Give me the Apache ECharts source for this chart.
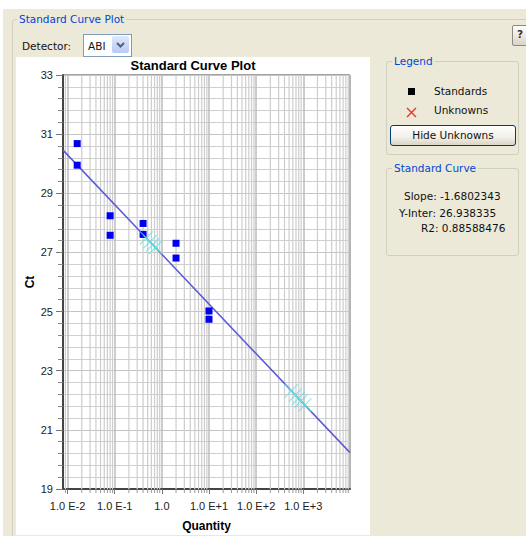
<!DOCTYPE html>
<html>
<head>
<meta charset="utf-8">
<script src="https://cdn.jsdelivr.net/npm/echarts@6/dist/echarts.min.js"></script>
<style>
  html, body { margin:0; padding:0; width:526px; height:536px; background:#fff; overflow:hidden; }
  .abs { position:absolute; }
  .ui { font-family:"DejaVu Sans", sans-serif; font-size:10.5px; color:#111; white-space:nowrap; line-height:12px; }
  .gbox { position:absolute; border:1px solid #D0D0BF; border-radius:3px; }
  .gtitle { position:absolute; background:#ECE9D8; padding:0 2px; color:#0046D5; font-family:"DejaVu Sans", sans-serif; font-size:10.5px; line-height:12px; white-space:nowrap; }
</style>
</head>
<body>
<div class="abs" style="left:3px;top:9px;width:523px;height:527px;background:#ECE9D8;"></div>
<div class="gbox" style="left:12px;top:19px;width:530px;height:540px;"></div>
<div class="gtitle" style="left:17px;top:13px;">Standard Curve Plot</div>

<!-- help button -->
<div class="abs" style="left:512px;top:25px;width:18px;height:19px;border:1px solid #8a8a80;border-radius:2px;background:linear-gradient(#fdfdfb,#d8d4c8);"></div>
<div class="abs ui" style="left:517px;top:28px;font-weight:bold;color:#333;">?</div>

<div class="abs ui" style="left:22px;top:40px;">Detector:</div>
<div class="abs" style="left:83px;top:34px;width:47px;height:21px;border:1px solid #7F9DB9;background:#fff;"></div>
<div class="abs ui" style="left:88px;top:40px;">ABI</div>
<div class="abs" style="left:112px;top:36px;width:17px;height:17px;border-radius:2px;background:linear-gradient(#dfe8fb,#b8cbf3);"></div>
<svg class="abs" style="left:115px;top:40px;" width="11" height="9"><polyline points="2,3 5.5,6.5 9,3" fill="none" stroke="#4d6185" stroke-width="2"/></svg>

<div id="chart" class="abs" style="left:16px;top:57px;width:354px;height:478px;background:#fff;"></div>

<!-- Legend group -->
<div class="gbox" style="left:386px;top:61px;width:131px;height:92px;"></div>
<div class="gtitle" style="left:392px;top:55px;">Legend</div>
<div class="abs" style="left:408px;top:88px;width:7px;height:7px;background:#000;"></div>
<div class="abs ui" style="left:434px;top:85px;">Standards</div>
<svg class="abs" style="left:406px;top:107px;" width="11" height="11"><path d="M1,1L10,10M10,1L1,10" stroke="#e8352b" stroke-width="1.4" fill="none"/></svg>
<div class="abs ui" style="left:434px;top:104px;">Unknowns</div>
<div class="abs" style="left:390px;top:125px;width:124px;height:19px;border:1px solid #003C74;border-radius:3px;background:linear-gradient(#ffffff,#f1efe8 60%,#d9d4c6);"></div>
<div class="abs ui" style="left:390px;top:129px;width:126px;text-align:center;">Hide Unknowns</div>

<!-- Standard Curve group -->
<div class="gbox" style="left:386px;top:168px;width:131px;height:86px;"></div>
<div class="gtitle" style="left:392px;top:162px;">Standard Curve</div>
<div class="abs ui" style="left:404px;top:190px;">Slope: -1.6802343</div>
<div class="abs ui" style="left:399px;top:207px;">Y-Inter: 26.938335</div>
<div class="abs ui" style="left:421px;top:222px;">R2: 0.88588476</div>

<script>
// ---- data ----
const stdQuantity = [0.016, 0.016, 0.08, 0.08, 0.4, 0.4, 2, 2, 10, 10];
const stdCt       = [30.68, 29.95, 28.24, 27.58, 27.98, 27.61, 27.31, 26.81, 25.02, 24.74];
const unkQuantity = [0.47, 0.56, 0.64, 0.73, 560, 680, 790, 900, 1080];
const unkCt       = [27.49, 27.36, 27.26, 27.17, 22.32, 22.18, 22.07, 21.98, 21.84];
const fitQuantity = [0.008, 9800];
const fitCt       = [30.46, 20.23];
const yTicks = [19, 21, 23, 25, 27, 29, 31, 33];
const xDecadeLabels = {'-2':'1.0 E-2','-1':'1.0 E-1','0':'1.0','1':'1.0 E+1','2':'1.0 E+2','3':'1.0 E+3'};
const xMin = 0.008, xMax = 9800;
const minorMultipliers = [2, 3, 4, 5, 6, 7, 8, 9];
const decades = [-3, -2, -1, 0, 1, 2, 3];

const minorX = [];
decades.forEach(d => minorMultipliers.forEach(m => {
  const v = m * Math.pow(10, d);
  if (v > xMin && v < xMax) minorX.push([v, yTicks[0]]);
}));

const chart = echarts.init(document.getElementById('chart'), null, {renderer:'svg'});
const font = '"Liberation Sans", Arial, sans-serif';
const xShape = 'path://M0,0.8L0.8,0L7,6.2L13.2,0L14,0.8L7.8,7L14,13.2L13.2,14L7,7.8L0.8,14L0,13.2L6.2,7Z';

chart.setOption({
  animation: false,
  backgroundColor: '#fff',
  title: {
    text: 'Standard Curve Plot', left: 'center', top: 2, padding: 0,
    textStyle: {fontFamily: font, fontSize: 13, fontWeight: 'bold', color: '#000'}
  },
  grid: {left: 47, top: 18, right: 20, bottom: 46, containLabel: false, outerBoundsMode: 'none',
         show: true, borderColor: '#444', borderWidth: 1, backgroundColor: 'transparent'},
  xAxis: {
    type: 'log', logBase: 10, min: xMin, max: xMax,
    name: 'Quantity', nameLocation: 'middle', nameGap: 31, nameMoveOverlap: false,
    nameTextStyle: {fontFamily: font, fontSize: 12, fontWeight: 'bold', color: '#000'},
    axisLine: {show: true, lineStyle: {color: '#444', width: 2}},
    axisTick: {show: true, length: 5, lineStyle: {color: '#777'}},
    axisLabel: {
      fontFamily: font, fontSize: 11, color: '#222', margin: 11,
      showMinLabel: false, showMaxLabel: false,
      formatter: v => {
        const l = Math.log10(v), e = Math.round(l);
        if (Math.abs(l - e) > 0.01) return '';
        return xDecadeLabels[String(e)] || '';
      }
    },
    splitLine: {show: true, lineStyle: {color: '#bcbcbc', width: 1.5}}
  },
  yAxis: {
    type: 'value', min: yTicks[0], max: yTicks[yTicks.length - 1], interval: 2,
    name: 'Ct', nameLocation: 'middle', nameGap: 27, nameMoveOverlap: false,
    nameTextStyle: {fontFamily: font, fontSize: 12, fontWeight: 'bold', color: '#000'},
    axisLine: {show: true, lineStyle: {color: '#444', width: 2}},
    axisTick: {show: true, length: 7, lineStyle: {color: '#777'}},
    minorTick: {show: true, splitNumber: 5, length: 5, lineStyle: {color: '#888'}},
    axisLabel: {fontFamily: font, fontSize: 11, color: '#222', margin: 10},
    splitLine: {show: true, lineStyle: {color: '#c4c4c4', width: 1.2}},
    minorSplitLine: {show: true, lineStyle: {color: '#cfcfcf', width: 1.2}}
  },
  series: [
    {
      type: 'custom', silent: true, z: 1, clip: false,
      data: minorX,
      encode: {x: 0, y: 1},
      renderItem: (params, api) => {
        const x = api.coord([api.value(0), yTicks[0]])[0];
        const yb = api.coord([api.value(0), yTicks[0]])[1];
        const yt = api.coord([api.value(0), yTicks[yTicks.length - 1]])[1];
        return {type: 'group', children: [
          {type: 'line', shape: {x1: x, y1: yt, x2: x, y2: yb}, style: {stroke: '#cdcdcd', lineWidth: 1.2}},
          {type: 'line', shape: {x1: x, y1: yb, x2: x, y2: yb + 4}, style: {stroke: '#999', lineWidth: 1}}
        ]};
      }
    },
    {
      type: 'line', z: 3, silent: true, symbol: 'none',
      data: fitQuantity.map((q, i) => [q, fitCt[i]]),
      lineStyle: {color: '#5a5ad6', width: 1.5}
    },
    {
      type: 'scatter', z: 4, silent: true,
      symbol: 'rect', symbolSize: 7,
      data: stdQuantity.map((q, i) => [q, stdCt[i]]),
      itemStyle: {color: '#0000ee', opacity: 1}
    },
    {
      type: 'scatter', z: 5, silent: true,
      symbol: xShape, symbolSize: 14,
      data: unkQuantity.map((q, i) => [q, unkCt[i]]),
      itemStyle: {color: 'rgba(90,230,230,0.75)', opacity: 1}
    }
  ]
});
</script>
</body>
</html>
